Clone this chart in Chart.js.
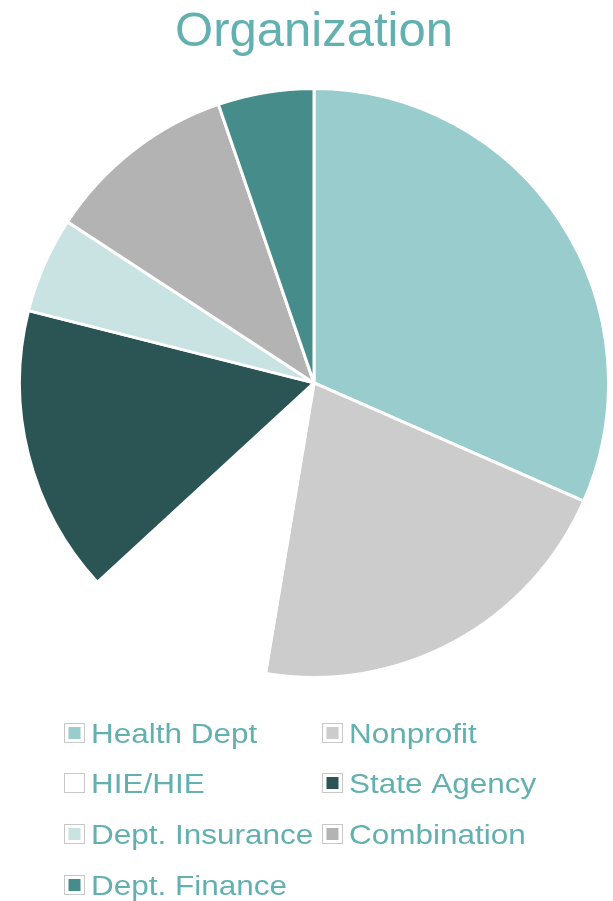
<!DOCTYPE html>
<html>
<head>
<meta charset="utf-8">
<script src="https://cdn.jsdelivr.net/npm/chart.js@4"></script>
<style>
  html, body { margin: 0; padding: 0; background: #fff; }
  #wrap { width: 613px; height: 901px; }
</style>
</head>
<body>
<div id="wrap"><canvas id="org-chart"></canvas></div>
<script>
const labelsOrg = ['Health Dept', 'Nonprofit', 'HIE/HIE', 'State Agency', 'Dept. Insurance', 'Combination', 'Dept. Finance']
const valuesOrg = [6, 4, 2, 3, 1, 2, 1]
const colorsOrg = ['#99CCCC', '#CCCCCC', '#FFFFFF', '#2B5554', '#C9E2E2', '#B3B3B3', '#468C8B']

const TEXT_COLOR = '#62B0AF'

// legend laid out as a fixed two column grid, like the original
const gridLegend = {
  id: 'gridLegend',
  afterDraw: chart => {
    const ctx = chart.ctx
    const labels = chart.data.labels
    const colors = chart.data.datasets[0].backgroundColor
    const colX = [64, 322]
    const rowY = [733, 783, 834, 885]
    ctx.save()
    labels.forEach((label, i) => {
      const x = colX[i % 2]
      const y = rowY[Math.floor(i / 2)]
      // outer box
      ctx.fillStyle = '#FFFFFF'
      ctx.strokeStyle = '#C8C8C8'
      ctx.lineWidth = 1
      ctx.fillRect(x, y - 10, 21, 20)
      ctx.strokeRect(x + 0.5, y - 9.5, 20, 19)
      // inner swatch
      ctx.fillStyle = colors[i]
      ctx.fillRect(x + 4.5, y - 6, 12, 12)
      // label
      ctx.fillStyle = TEXT_COLOR
      ctx.font = '27.5px "Liberation Sans", Arial, sans-serif'
      ctx.textBaseline = 'alphabetic'
      ctx.save()
      ctx.translate(x + 27, y + 9.5)
      ctx.scale(1.145, 1)
      ctx.fillText(label, 0, 0)
      ctx.restore()
    })
    ctx.restore()
  },
}

const ctxOrg = document.getElementById('org-chart').getContext('2d')
const orgChart = new Chart(ctxOrg, {
  type: 'pie',
  data: {
    labels: labelsOrg,
    datasets: [
      {
        data: valuesOrg,
        backgroundColor: colorsOrg,
        borderColor: '#FFFFFF',
        borderWidth: 3,
      },
    ],
  },
  options: {
    responsive: true,
    maintainAspectRatio: false,
    animation: false,
    layout: {
      padding: { top: 0, left: 18, right: 3, bottom: 222 },
    },
    plugins: {
      title: {
        display: true,
        text: 'Organization',
        color: TEXT_COLOR,
        font: { family: '"Liberation Sans", Arial, sans-serif', size: 49, weight: 'normal' },
        padding: { top: 3, bottom: 25 },
      },
      legend: { display: false },
      tooltip: { enabled: false },
    },
  },
  plugins: [gridLegend],
})
</script>
</body>
</html>
